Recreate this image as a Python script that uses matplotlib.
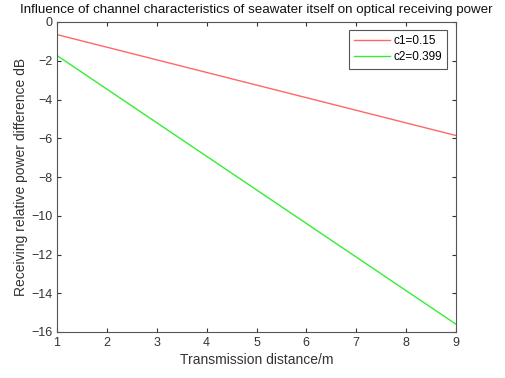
import matplotlib
matplotlib.use("Agg")
import matplotlib.pyplot as plt

plt.rcParams['font.family'] = ['Liberation Sans', 'DejaVu Sans']

distance = [1, 9]
c1_values = [-0.65, -5.86]
c2_values = [-1.73, -15.60]
labels = ["c1=0.15", "c2=0.399"]
x_ticks = [1, 2, 3, 4, 5, 6, 7, 8, 9]
y_ticks = [0, -2, -4, -6, -8, -10, -12, -14, -16]

fig = plt.figure(figsize=(5.06, 3.78), dpi=100)
ax = fig.add_axes([57/506, 1 - 332/378, 399/506, 310/378])

ax.plot(distance, c1_values, color='#ff6666', lw=1.0, label=labels[0])
ax.plot(distance, c2_values, color='#33ee33', lw=1.0, label=labels[1])

ax.set_xlim(1, 9)
ax.set_ylim(-16, 0)
ax.set_xticks(x_ticks)
ax.set_yticks(y_ticks)
ax.tick_params(direction='in', top=True, right=True, labelsize=9, colors='#333333', length=3)
for s in ax.spines.values():
    s.set_color('#555555')
    s.set_linewidth(0.8)

ax.set_xlabel("Transmission distance/m", fontsize=10, color='#333333', labelpad=3)
ax.set_ylabel("Receiving relative power difference dB", fontsize=10, color='#333333', labelpad=2)
fig.text(256/506, 1 - 10/378,
         "Influence of channel characteristics of seawater itself on optical receiving power",
         fontsize=9.6, color='#111111', ha='center', va='center')

leg = ax.legend(loc='upper right', fontsize=8.5, fancybox=False, framealpha=1,
                edgecolor='#555555', handlelength=3.0, handletextpad=0.3,
                borderpad=0.45, labelspacing=0.35, borderaxespad=0,
                bbox_to_anchor=((447 - 57) / 399, (332 - 30) / 310))
leg.get_frame().set_linewidth(0.8)

fig.savefig("out.png", dpi=100)
